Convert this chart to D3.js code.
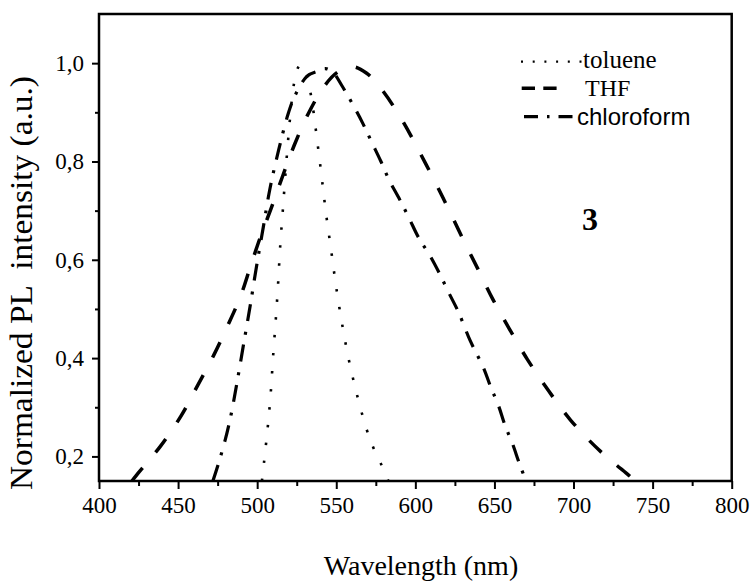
<!DOCTYPE html>
<html>
<head>
<meta charset="utf-8">
<script src="https://cdn.jsdelivr.net/npm/d3@7"></script>
<style>
  body { margin: 0; background: #fff; }
  svg { display: block; }
  .tick text { font-family: "Liberation Serif", "Times New Roman", serif; font-size: 23px; }
</style>
</head>
<body>
<div id="chart"></div>
<script>
// wavelengths (nm) and normalized PL
const tolueneX = [503, 504.4, 506.7, 508.6, 510.2, 511.8, 513.2, 514.6, 516.2, 518.0, 520.0, 522.5, 525.0, 527.5, 530.0, 533.0, 535.0, 538.0, 540.8, 543.5, 546.7, 549.8, 553.4, 557.6, 562.9, 569.2, 573.4, 578.7, 583];
const tolueneY = [0.15, 0.19, 0.26, 0.33, 0.41, 0.48, 0.55, 0.63, 0.70, 0.78, 0.86, 0.94, 0.985, 0.997, 0.988, 0.951, 0.915, 0.841, 0.768, 0.695, 0.621, 0.548, 0.475, 0.402, 0.328, 0.255, 0.218, 0.182, 0.15];

const thfX = [420.8, 424.0, 438.9, 451.8, 462.3, 472.4, 481.2, 489.5, 495.8, 502.1, 509.0, 516.3, 523.3, 531.8, 542.6, 551.0, 560.0, 569.0, 578.6, 591.3, 601.7, 612.7, 621.0, 630.1, 639.6, 649.1, 659.5, 670.9, 683.9, 698.1, 715.8, 734.8, 740];
const thfY = [0.15, 0.163, 0.221, 0.282, 0.344, 0.405, 0.465, 0.526, 0.587, 0.647, 0.706, 0.772, 0.832, 0.894, 0.954, 0.982, 0.993, 0.980, 0.947, 0.886, 0.825, 0.757, 0.703, 0.642, 0.581, 0.519, 0.459, 0.397, 0.335, 0.274, 0.214, 0.162, 0.148];

const chloroX = [472, 475, 479.5, 483.5, 487.5, 491.5, 495.5, 499.5, 503.9, 508.1, 513.4, 519.7, 524.2, 531.7, 538.5, 543.2, 548.0, 553.4, 560.6, 566.7, 572.3, 578.1, 583.3, 589.7, 596.0, 601.9, 609.3, 615.6, 621.3, 627.2, 634.6, 643.1, 647.8, 652.6, 656.7, 661.4, 665.7, 668.7, 670.5];
const chloroY = [0.15, 0.18, 0.23, 0.285, 0.355, 0.43, 0.505, 0.585, 0.667, 0.745, 0.821, 0.898, 0.936, 0.974, 0.984, 0.989, 0.981, 0.955, 0.915, 0.878, 0.840, 0.801, 0.763, 0.725, 0.685, 0.646, 0.608, 0.570, 0.532, 0.494, 0.436, 0.380, 0.340, 0.303, 0.263, 0.226, 0.186, 0.161, 0.148];

const xMajor = [400, 450, 500, 550, 600, 650, 700, 750, 800];
const xMinor = [425, 475, 525, 575, 625, 675, 725, 775];
const yMajor = [0.2, 0.4, 0.6, 0.8, 1.0];
const yMinor = [0.3, 0.5, 0.7, 0.9];

const legendNames = ['toluene', 'THF', 'chloroform'];

const W = 751, H = 583;
const pL = 99, pR = 731.7, pT = 14, pB = 481;
const serif = '"Liberation Serif", "Times New Roman", serif';
const sans = '"Liberation Sans", Arial, sans-serif';

const svg = d3.select('#chart').append('svg').attr('width', W).attr('height', H);

const x = d3.scaleLinear().domain([400, 800]).range([pL, pR]);
const y = d3.scaleLinear().domain([0.15, 1.1]).range([pB, pT]);

svg.append('clipPath').attr('id', 'plot')
  .append('rect').attr('x', pL).attr('y', pT).attr('width', pR - pL).attr('height', pB - pT);

const styles = [
  { w: 2.6, dash: '2.5,15.5' },
  { w: 3.5, dash: '17,20' },
  { w: 3.2, dash: '17,10,3,11' },
];

const series = [
  tolueneX.map((d, i) => [d, tolueneY[i]]),
  thfX.map((d, i) => [d, thfY[i]]),
  chloroX.map((d, i) => [d, chloroY[i]]),
];

const line = d3.line().x(d => x(d[0])).y(d => y(d[1])).curve(d3.curveCatmullRom.alpha(0.5));

const g = svg.append('g').attr('clip-path', 'url(#plot)');
series.forEach((s, i) => {
  g.append('path').datum(s).attr('d', line)
    .attr('fill', 'none').attr('stroke', '#000')
    .attr('stroke-width', styles[i].w).attr('stroke-dasharray', styles[i].dash);
});

// axes
const comma = v => d3.format('.1f')(v).replace('.', ',');
const axes = [
  svg.append('g').attr('transform', `translate(0,${pB})`)
    .call(d3.axisBottom(x).tickValues(xMajor).tickSize(8).tickPadding(8).tickFormat(d3.format('d'))),
  svg.append('g').attr('transform', `translate(0,${pB})`)
    .call(d3.axisBottom(x).tickValues(xMinor).tickSize(5).tickFormat('')),
  svg.append('g').attr('transform', `translate(${pL},0)`)
    .call(d3.axisLeft(y).tickValues(yMajor).tickSize(7).tickPadding(8).tickFormat(comma)),
  svg.append('g').attr('transform', `translate(${pL},0)`)
    .call(d3.axisLeft(y).tickValues(yMinor).tickSize(4).tickFormat('')),
];
axes.forEach(a => a.attr('font-family', serif).attr('font-size', 23));

svg.selectAll('.domain').remove();
svg.selectAll('.tick line').attr('stroke', '#000').attr('stroke-width', 2);
svg.selectAll('.tick text').attr('fill', '#000');

svg.append('rect').attr('x', pL).attr('y', pT).attr('width', pR - pL).attr('height', pB - pT)
  .attr('fill', 'none').attr('stroke', '#000').attr('stroke-width', 2.5);

// titles
svg.append('text').attr('x', 421).attr('y', 575).attr('text-anchor', 'middle')
  .attr('font-family', serif).attr('font-size', 28).text('Wavelength (nm)');
svg.append('text').attr('transform', 'translate(32,283) rotate(-90)').attr('text-anchor', 'middle')
  .attr('font-family', serif).attr('font-size', 31).style('white-space', 'pre')
  .attr('textLength', 414).attr('lengthAdjust', 'spacingAndGlyphs')
  .text('Normalized PL  intensity (a.u.)');

svg.append('text').attr('x', 590).attr('y', 230).attr('text-anchor', 'middle')
  .attr('font-family', serif).attr('font-size', 32).attr('font-weight', 'bold').text('3');

// legend
const leg = [
  { y: 61.7, x1: 521, x2: 583, dash: '2,9.7', w: 2.2, tx: 583, ty: 68, font: serif, size: 25 },
  { y: 88.3, x1: 521.7, x2: 557, dash: '13.3,8.3', w: 3.4, tx: 585, ty: 96, font: serif, size: 24 },
  { y: 116.7, x1: 524, x2: 573.3, dash: '14,9,2.5,9,14', w: 3.2, tx: 577, ty: 125, font: sans, size: 24 },
];
leg.forEach((l, i) => {
  svg.append('line').attr('x1', l.x1).attr('x2', l.x2).attr('y1', l.y).attr('y2', l.y)
    .attr('stroke', '#000').attr('stroke-width', l.w).attr('stroke-dasharray', l.dash);
  svg.append('text').attr('x', l.tx).attr('y', l.ty)
    .attr('font-family', l.font).attr('font-size', l.size).text(legendNames[i]);
});
</script>
</body>
</html>
